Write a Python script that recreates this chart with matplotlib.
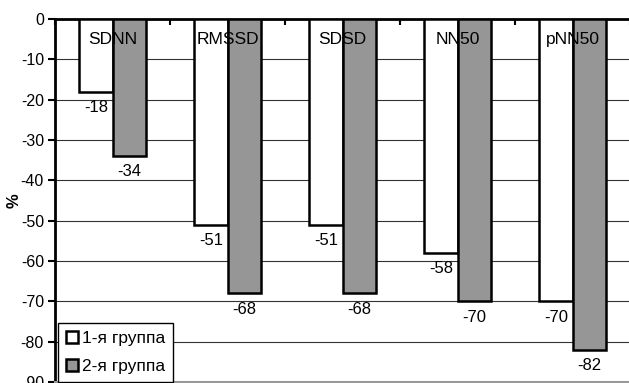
import numpy as np
import matplotlib.pyplot as plt
from matplotlib.patches import Patch

plt.rcParams['font.family'] = ['Liberation Sans', 'DejaVu Sans']

categories = ['SDNN', 'RMSSD', 'SDSD', 'NN50', 'pNN50']
group1 = [-18, -51, -51, -58, -70]
group2 = [-34, -68, -68, -70, -82]
series_names = ['1-я группа', '2-я группа']
yticks = [0, -10, -20, -30, -40, -50, -60, -70, -80, -90]

fig = plt.figure(figsize=(6.29, 3.83), dpi=100)
ax = fig.add_axes([55 / 629, 1 / 383, 575 / 629, 363 / 383])

x = np.arange(len(categories))
w = 0.287
ax.bar(x - w / 2, group1, w, color='white', edgecolor='black', linewidth=1.8, zorder=3)
ax.bar(x + w / 2, group2, w, color='#969696', edgecolor='black', linewidth=1.8, zorder=3)

# value labels under the bar ends
for xi, v in zip(x - w / 2, group1):
    ax.annotate(str(v), (xi, v), xytext=(0, -6), textcoords='offset points',
                ha='center', va='top', fontsize=12, zorder=4)
for xi, v in zip(x + w / 2, group2):
    ax.annotate(str(v), (xi, v), xytext=(0, -6), textcoords='offset points',
                ha='center', va='top', fontsize=12, zorder=4)

# category names sit inside the plot under the zero line
for xi, name in zip(x, categories):
    ax.text(xi, -5, name, ha='center', va='center', fontsize=12.5, zorder=4)

ax.set_xlim(-0.5, len(categories) - 0.5)
ax.set_ylim(-90, 0)
ax.set_yticks(yticks)
ax.set_yticklabels([str(t) for t in yticks], fontsize=11.5)
ax.yaxis.grid(True, color='#333333', linewidth=0.8, zorder=0)
ax.tick_params(axis='y', direction='out', length=5, width=1.5, pad=3)

ax.xaxis.tick_top()
ax.set_xticks(np.arange(len(categories) + 1) - 0.5)
ax.set_xticklabels([])
ax.tick_params(axis='x', direction='in', length=4, width=1.5)

ax.spines['top'].set_linewidth(2)
ax.spines['left'].set_linewidth(2)
ax.spines['right'].set_visible(False)
ax.spines['bottom'].set_color('#999999')
ax.spines['bottom'].set_linewidth(1.5)

ax.set_ylabel('%', fontsize=12, fontweight='bold')
ax.yaxis.set_label_coords(-0.058, 0.5)

handles = [Patch(facecolor='white', edgecolor='black', linewidth=1.8),
           Patch(facecolor='#969696', edgecolor='black', linewidth=1.8)]
leg = ax.legend(handles, series_names, loc='lower left', bbox_to_anchor=(3 / 575, 0),
                borderaxespad=0, fontsize=12.5, handlelength=0.7, handleheight=0.7,
                handletextpad=0.25, fancybox=False, framealpha=1, edgecolor='black',
                borderpad=0.45, labelspacing=0.75)
leg.get_frame().set_linewidth(1.0)
leg.set_zorder(5)

fig.savefig('out.png', dpi=100)
